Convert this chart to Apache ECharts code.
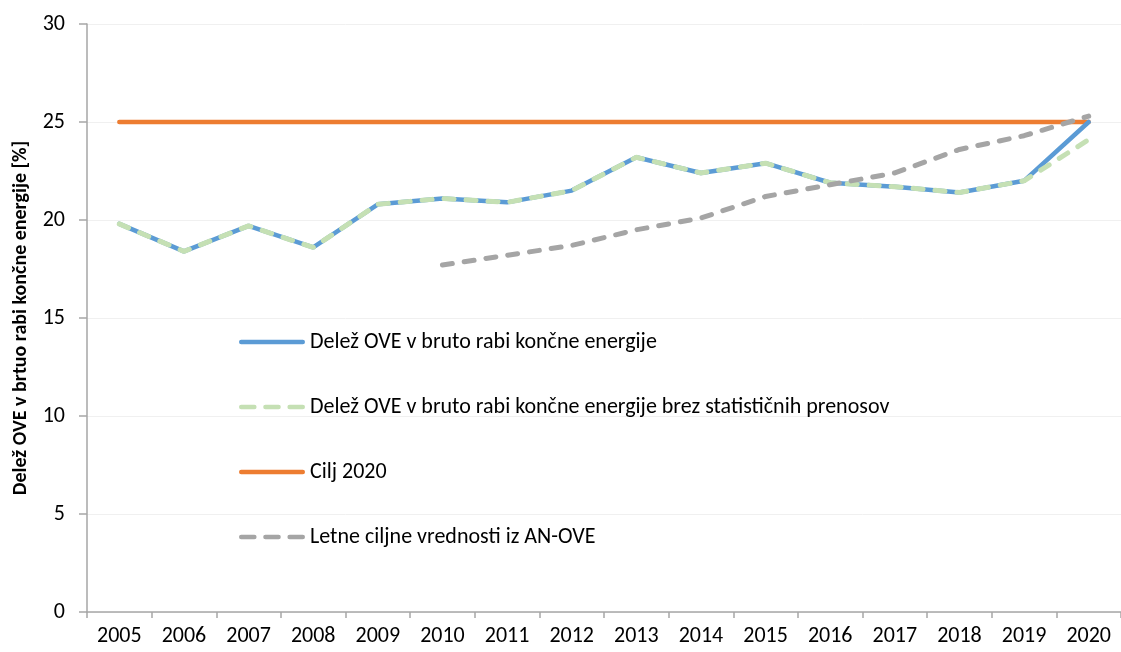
<!DOCTYPE html>
<html>
<head>
<meta charset="utf-8">
<script src="https://cdn.jsdelivr.net/npm/echarts@6/dist/echarts.min.js"></script>
<style>
html, body { margin: 0; padding: 0; background: #fff; }
#chart { width: 1121px; height: 652px; }
</style>
</head>
<body>
<div id="chart"></div>
<script>
var years = ['2005', '2006', '2007', '2008', '2009', '2010', '2011', '2012',
             '2013', '2014', '2015', '2016', '2017', '2018', '2019', '2020'];
var delez = [19.8, 18.4, 19.7, 18.6, 20.8, 21.1, 20.9, 21.5, 23.2, 22.4, 22.9, 21.9, 21.7, 21.4, 22.0, 25.0];
var delezBrez = [19.8, 18.4, 19.7, 18.6, 20.8, 21.1, 20.9, 21.5, 23.2, 22.4, 22.9, 21.9, 21.7, 21.4, 22.0, 24.1];
var cilj = [25, 25, 25, 25, 25, 25, 25, 25, 25, 25, 25, 25, 25, 25, 25, 25];
var anOve = ['-', '-', '-', '-', '-', 17.7, 18.2, 18.7, 19.5, 20.1, 21.2, 21.8, 22.4, 23.6, 24.3, 25.3];

var names = [
    'Delež OVE v bruto rabi končne energije',
    'Delež OVE v bruto rabi končne energije brez statističnih prenosov',
    'Cilj 2020',
    'Letne ciljne vrednosti iz AN-OVE'
];

var font = 'Carlito, Calibri, Lato, sans-serif';
var solidIcon = 'path://M2,0h56a2,2 0 0 1 0,4h-56a2,2 0 0 1 0,-4z';
var dashIcon = 'path://M2,0h12a2,2 0 0 1 0,4h-12a2,2 0 0 1 0,-4z' +
               'M24,0h12a2,2 0 0 1 0,4h-12a2,2 0 0 1 0,-4z' +
               'M46,0h12a2,2 0 0 1 0,4h-12a2,2 0 0 1 0,-4z';

var myChart = echarts.init(document.getElementById('chart'));
myChart.setOption({
    backgroundColor: '#fff',
    animation: false,
    grid: {left: 87, top: 24, right: -10, bottom: 40, containLabel: false},
    legend: {
        orient: 'vertical',
        left: 234,
        top: 326,
        itemWidth: 66,
        itemHeight: 5,
        itemGap: 43,
        textStyle: {fontFamily: font, fontSize: 22, color: '#000'},
        data: [
            {name: names[0], icon: solidIcon},
            {name: names[1], icon: dashIcon},
            {name: names[2], icon: solidIcon},
            {name: names[3], icon: dashIcon}
        ]
    },
    xAxis: {
        type: 'category',
        data: years,
        boundaryGap: true,
        axisLine: {lineStyle: {color: '#a6a6a6', width: 1.5}},
        axisTick: {show: true, length: 6, lineStyle: {color: '#a6a6a6', width: 1.5}},
        axisLabel: {fontFamily: font, fontSize: 22, color: '#000', margin: 13, interval: 0},
        splitLine: {show: false}
    },
    yAxis: {
        type: 'value',
        min: 0,
        max: 30,
        interval: 5,
        name: 'Delež OVE v brtuo rabi končne energije [%]',
        nameLocation: 'middle',
        nameGap: 56,
        nameTextStyle: {fontFamily: font, fontSize: 20, fontWeight: 'bold', color: '#000'},
        axisLine: {show: true, lineStyle: {color: '#a6a6a6', width: 1.5}},
        axisTick: {show: true, length: 8, lineStyle: {color: '#a6a6a6', width: 1.5}},
        axisLabel: {fontFamily: font, fontSize: 22, color: '#000', margin: 22},
        splitLine: {lineStyle: {color: '#f0f0f0', width: 1}}
    },
    series: [
        {
            name: names[0],
            type: 'line',
            data: delez,
            symbol: 'none',
            z: 2,
            itemStyle: {color: '#5b9bd5'},
            lineStyle: {color: '#5b9bd5', width: 4.5, cap: 'round'}
        },
        {
            name: names[1],
            type: 'line',
            data: delezBrez,
            symbol: 'none',
            z: 3,
            itemStyle: {color: '#c5e0b4'},
            lineStyle: {color: '#c5e0b4', width: 5, type: [10, 12], cap: 'round'}
        },
        {
            name: names[2],
            type: 'line',
            data: cilj,
            symbol: 'none',
            z: 1,
            itemStyle: {color: '#ed7d31'},
            lineStyle: {color: '#ed7d31', width: 4.5, cap: 'round'}
        },
        {
            name: names[3],
            type: 'line',
            data: anOve,
            symbol: 'none',
            z: 4,
            itemStyle: {color: '#a5a5a5'},
            lineStyle: {color: '#a5a5a5', width: 5, type: [10, 12], cap: 'round'}
        }
    ]
});
</script>
</body>
</html>
